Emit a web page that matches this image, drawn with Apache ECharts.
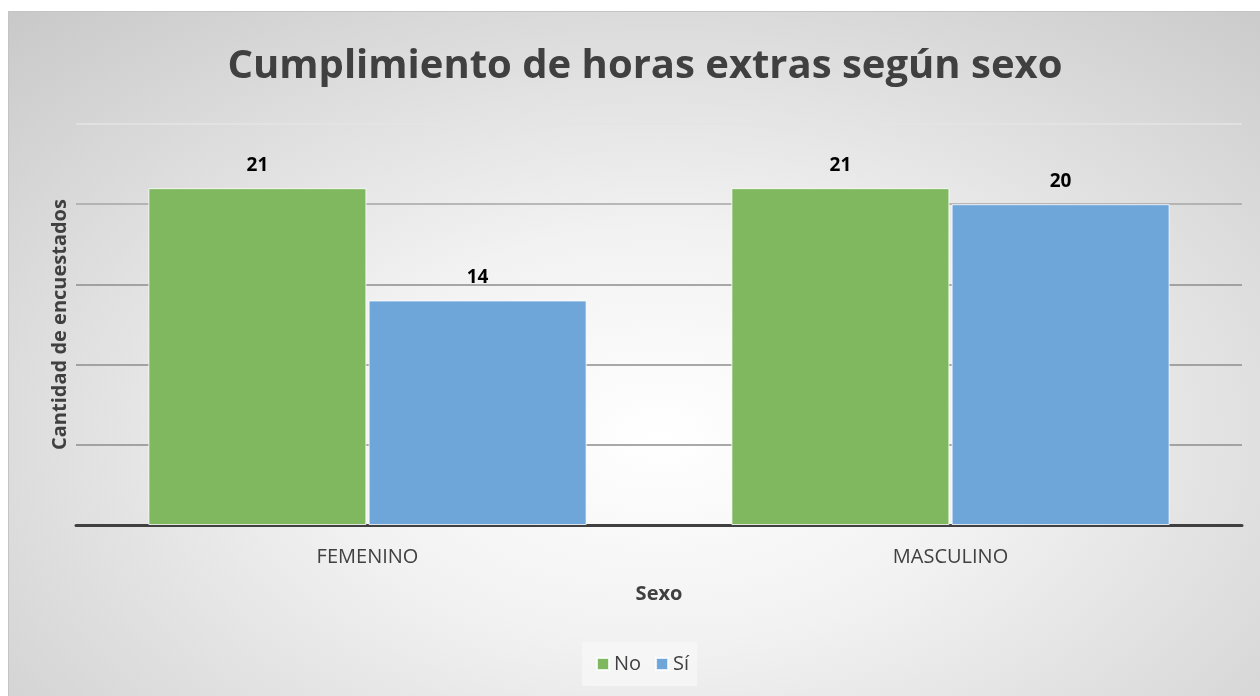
<!DOCTYPE html>
<html lang="es">

<head>
    <meta charset="UTF-8">
    <title>Cumplimiento de horas extras</title>
    <script src="https://cdn.jsdelivr.net/npm/echarts@6/dist/echarts.min.js"></script>
    <style>
        body {
            margin: 0;
            background: #ffffff;
        }

        .frame {
            position: absolute;
            left: 8px;
            top: 11px;
            width: 1252px;
            height: 685px;
            border-left: 1px solid #c4c4c4;
            border-top: 1px solid #c4c4c4;
            box-sizing: border-box;
            background: radial-gradient(ellipse 75% 85% at 52% 62%, #ffffff 0%, #f2f2f2 35%, #d9d9d9 75%, #c9c9c9 100%);
        }

        .chart {
            position: absolute;
            left: 0;
            top: 0;
            width: 1260px;
            height: 696px;
        }
    </style>
</head>

<body>
    <div class="frame"></div>
    <div class="chart"></div>

    <script>
        // datos
        var categorias = ['FEMENINO', 'MASCULINO'];
        var valoresNo = [21, 21];
        var valoresSi = [14, 20];
        var serieNombres = ['No', 'Sí'];

        var mChart = echarts.init(document.querySelector('.chart'));

        var etiqueta = {
            show: true,
            position: 'top',
            distance: 13,
            color: '#000000',
            fontFamily: 'Open Sans',
            fontWeight: 'bold',
            fontSize: 19
        };

        var option = {
            backgroundColor: 'transparent',
            animation: false,
            title: {
                text: 'Cumplimiento de horas extras según sexo',
                left: 640,
                textAlign: 'center',
                top: 42,
                textStyle: {
                    color: '#404040',
                    fontFamily: 'Open Sans',
                    fontWeight: 'bold',
                    fontSize: 40
                }
            },
            legend: {
                bottom: 10,
                left: 582,
                icon: 'rect',
                itemWidth: 12,
                itemHeight: 12,
                itemGap: 14,
                padding: [12, 8, 12, 14],
                backgroundColor: 'rgba(248,248,248,0.7)',
                textStyle: {
                    color: '#404040',
                    fontFamily: 'Open Sans',
                    fontSize: 20
                },
                data: serieNombres
            },
            grid: {
                left: 76,
                right: 18,
                top: 124,
                bottom: 171
            },
            xAxis: {
                type: 'category',
                data: categorias,
                name: 'Sexo',
                nameLocation: 'middle',
                nameGap: 59,
                nameTextStyle: {
                    color: '#404040',
                    fontFamily: 'Open Sans',
                    fontWeight: 'bold',
                    fontSize: 20
                },
                axisLine: {
                    lineStyle: {
                        color: '#404040',
                        width: 3
                    }
                },
                axisTick: {
                    show: false
                },
                axisLabel: {
                    margin: 22,
                    color: '#404040',
                    fontFamily: 'Open Sans',
                    fontSize: 20
                }
            },
            yAxis: {
                type: 'value',
                min: 0,
                max: 25,
                interval: 5,
                name: 'Cantidad de encuestados',
                nameLocation: 'middle',
                nameGap: 6,
                nameTextStyle: {
                    color: '#404040',
                    fontFamily: 'Open Sans',
                    fontWeight: 'bold',
                    fontSize: 20
                },
                axisLine: {
                    show: false
                },
                axisTick: {
                    show: false
                },
                axisLabel: {
                    show: false
                },
                splitLine: {
                    lineStyle: {
                        color: ['#9a9a9a', '#8c8c8c', '#8c8c8c', '#8c8c8c', '#a6a6a6', '#e4e4e4'],
                        width: 1.5
                    }
                }
            },
            series: [{
                name: serieNombres[0],
                type: 'bar',
                data: valoresNo,
                barWidth: '37.4%',
                barGap: '1%',
                itemStyle: {
                    color: '#80b860',
                    borderColor: 'rgba(255,255,255,0.8)',
                    borderWidth: 1
                },
                label: etiqueta
            }, {
                name: serieNombres[1],
                type: 'bar',
                data: valoresSi,
                barWidth: '37.4%',
                itemStyle: {
                    color: '#6fa6da',
                    borderColor: 'rgba(255,255,255,0.8)',
                    borderWidth: 1
                },
                label: etiqueta
            }]
        };
        mChart.setOption(option);
    </script>
</body>

</html>
